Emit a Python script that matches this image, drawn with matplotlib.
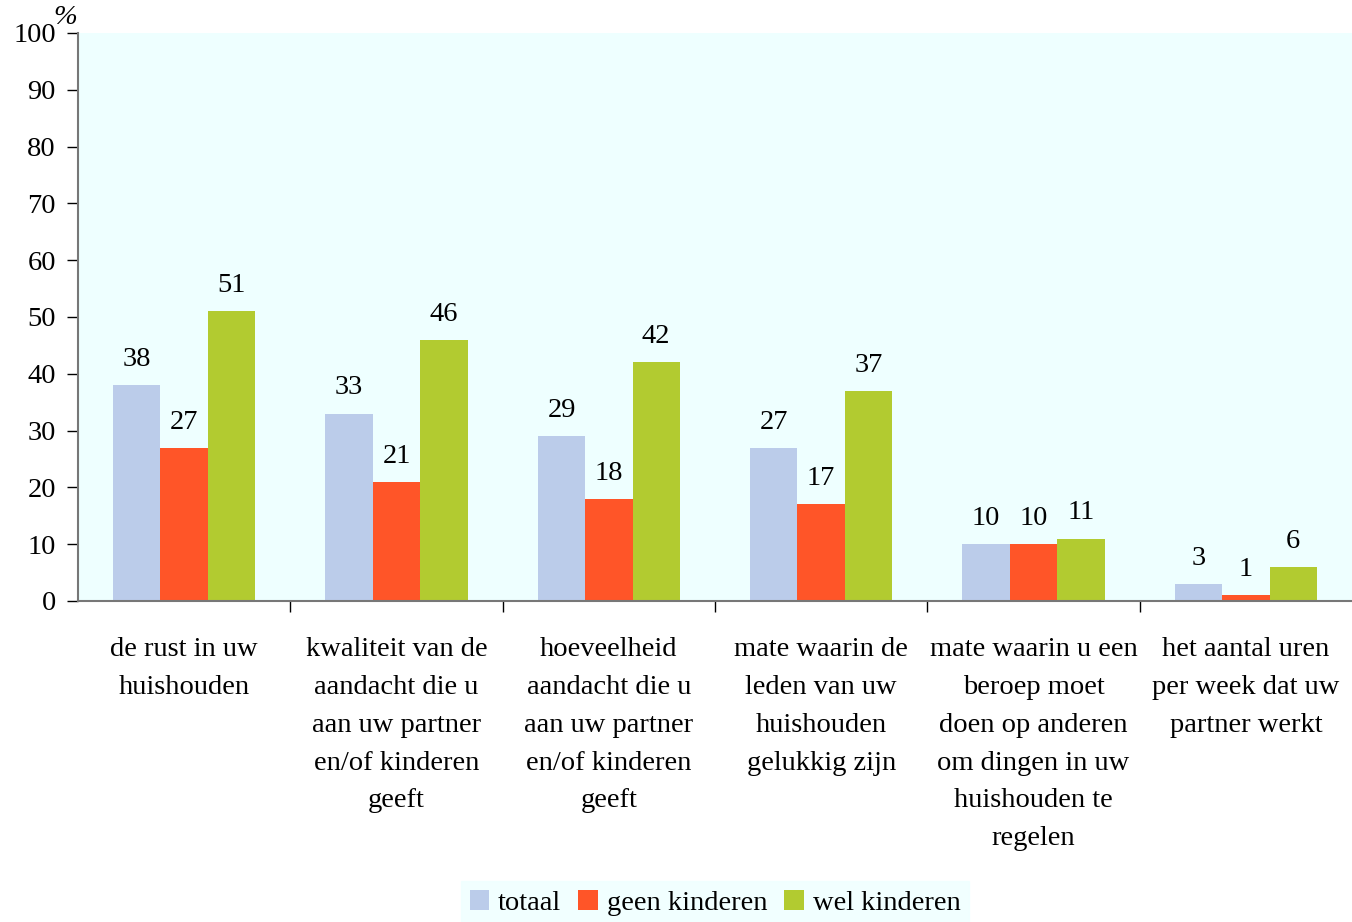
import numpy as np
import matplotlib.pyplot as plt
from matplotlib.patches import Patch

plt.rcParams['font.family'] = ['Liberation Serif', 'DejaVu Serif']

categories = [
    "de rust in uw\nhuishouden",
    "kwaliteit van de\naandacht die u\naan uw partner\nen/of kinderen\ngeeft",
    "hoeveelheid\naandacht die u\naan uw partner\nen/of kinderen\ngeeft",
    "mate waarin de\nleden van uw\nhuishouden\ngelukkig zijn",
    "mate waarin u een\nberoep moet\ndoen op anderen\nom dingen in uw\nhuishouden te\nregelen",
    "het aantal uren\nper week dat uw\npartner werkt",
]
series_names = ["totaal", "geen kinderen", "wel kinderen"]
totaal = [38, 33, 29, 27, 10, 3]
geen_kinderen = [27, 21, 18, 17, 10, 1]
wel_kinderen = [51, 46, 42, 37, 11, 6]
colors = ["#BBCCEA", "#FF5528", "#B2CB30"]
bg = "#EEFFFF"
FS = 20.5

fig = plt.figure(figsize=(13.52, 9.22), dpi=100)
ax = fig.add_axes([78 / 1352, 1 - 601 / 922, 1 - 78 / 1352, (601 - 33) / 922])
ax.set_facecolor(bg)

x = np.arange(len(categories))
w = 0.223
for i, vals in enumerate([totaal, geen_kinderen, wel_kinderen]):
    pos = x + (i - 1) * w
    ax.bar(pos, vals, width=w, color=colors[i], zorder=2)
    for p, v in zip(pos, vals):
        ax.text(p, v + 2.3, str(v), ha='center', va='bottom', fontsize=FS)

ax.set_xlim(-0.5, len(categories) - 0.5)
ax.set_ylim(0, 100)
ax.set_yticks(range(0, 101, 10))
ax.tick_params(axis='y', labelsize=FS, length=8, width=1, direction='out', pad=8)
ax.set_xticks(np.arange(0.5, len(categories) - 0.5, 1))
ax.set_xticklabels([])
ax.tick_params(axis='x', length=8, width=1, direction='out')
for spine in ['top', 'right']:
    ax.spines[spine].set_visible(False)
ax.spines['left'].set_color('#777777')
ax.spines['bottom'].set_color('#777777')
ax.spines['left'].set_linewidth(1.5)
ax.spines['bottom'].set_linewidth(1.5)

for xi, lab in zip(x, categories):
    ax.text(xi, -6.4, lab, ha='center', va='top', fontsize=FS, linespacing=1.67,
            transform=ax.transData, clip_on=False)

fig.text(65 / 1352, 1 - 18 / 922, "%", fontsize=FS, style='italic', ha='center', va='center')

handles = [Patch(facecolor=c, edgecolor='none') for c in colors]
leg = fig.legend(handles, series_names, loc='center', bbox_to_anchor=(715 / 1352, 1 - 903 / 922),
                 ncol=3, fontsize=FS, frameon=True, fancybox=False, handlelength=0.7,
                 handleheight=0.7, handletextpad=0.3, columnspacing=0.6, borderpad=0.3)
leg.get_frame().set_facecolor(bg)
leg.get_frame().set_edgecolor(bg)

fig.savefig("out.png", dpi=100)
